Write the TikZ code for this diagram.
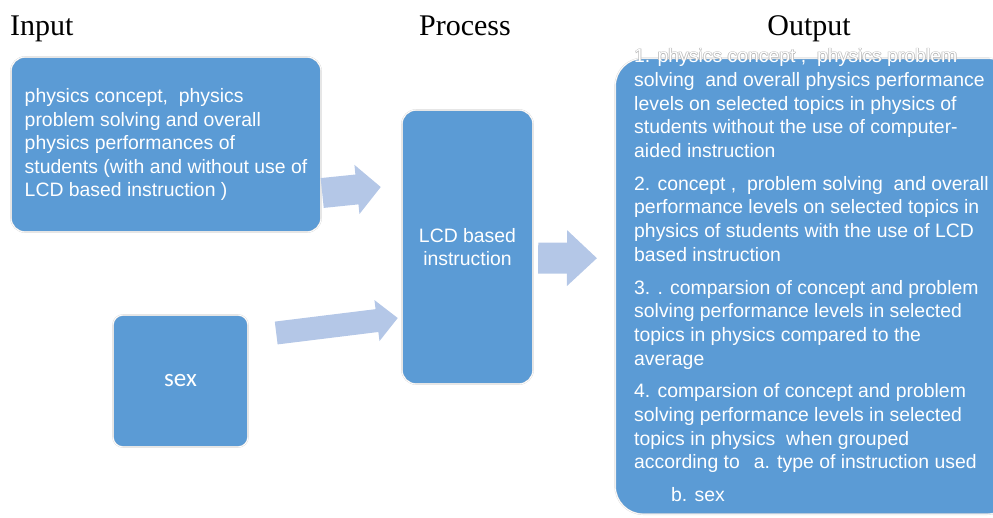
\documentclass[tikz,border=0pt]{standalone}
\usepackage{fontspec}
\setmainfont{Liberation Sans}
\newfontfamily\headfont{Liberation Serif}
\newfontfamily\sexfont{Carlito}
\usetikzlibrary{arrows.meta,positioning}
\definecolor{boxblue}{HTML}{5B9BD5}
\definecolor{arrowblue}{HTML}{B4C7E7}
\newcommand{\outtxt}{1. physics concept ,~ physics problem\\
solving~ and overall physics performance\\
levels on selected topics in physics of\\
students without the use of computer-\\
aided instruction\\[9pt]
2. concept ,~ problem solving~ and overall\\
performance levels on selected topics in\\
physics of students with the use of LCD\\
based instruction\\[9pt]
3. . comparsion of concept and problem\\
solving performance levels in selected\\
topics in physics compared to the\\
average\\[9pt]
4. comparsion of concept and problem\\
solving performance levels in selected\\
topics in physics~ when grouped\\
according to\hspace{14pt}a. type of instruction used\\[9pt]
\hspace*{37pt}b. sex}
\begin{document}
\begin{tikzpicture}[x=1pt,y=-1pt,
		box/.style={rectangle,rounded corners=14pt,fill=boxblue,draw=gray!30,double=white,double distance=0.8pt,
			text=white,inner sep=0pt,font=\fontsize{19.4}{23.5}\selectfont},
		head/.style={font=\headfont\fontsize{30}{30}\selectfont,inner sep=0pt,anchor=base},
		bodytext/.style={font=\fontsize{19.4}{23.7}\selectfont,align=left,anchor=north west,inner sep=0pt},
		fat/.style={draw=arrowblue,line cap=butt}]
	\useasboundingbox (0,0) rectangle (993,517);

	% headings
	\node[head,anchor=base west] (inhead) at (10,35) {Input};
	\node[head] (prochead) at (465,35) {Process};
	\node[head] (outhead) at (809,35) {Output};

	% boxes
	\node[box,minimum width=310pt,minimum height=175pt,align=left] (input) at (166,144.5)
		{physics concept,~ physics\\ problem solving and overall\\ physics performances of\\
		students (with and without use of\\ LCD based instruction )};
	\node[box,minimum width=135pt,minimum height=132pt,rounded corners=10pt,
		font=\sexfont\fontsize{25}{25}\selectfont] (sex) at (180.5,381) {sex};
	\node[box,minimum width=131pt,minimum height=274pt,align=center] (lcd) at (467.5,247)
		{LCD based\\ instruction};
	\node[box,minimum width=400pt,minimum height=456pt,rounded corners=28pt,anchor=north west]
		(output) at (615,58) {};

	% first output line sticks out of the box
	\begin{scope}
		\clip (620,38) rectangle (993,59);
		\foreach \dx/\dy [count=\i] in {-0.7/0,0.7/0,0/-0.7,0/0.7}
			\node[bodytext,text=gray!55] (halo\i) at (634+\dx,48.5+\dy) {\outtxt};
	\end{scope}
	\node[bodytext,text=white] (outtext) at (634,48.5) {\outtxt};

	% arrows
	\draw[fat,line width=30pt,-{Triangle[length=24pt,width=48pt]}]
		([shift={(1,48.5)}]input.east) -- ([shift={(-21,-60)}]lcd.west);
	\draw[fat,line width=23pt,-{Triangle[length=21pt,width=40pt]}]
		([shift={(28,-48)}]sex.east) -- ([shift={(-4,71)}]lcd.west);
	\draw[fat,line width=31pt,-{Triangle[length=30pt,width=54pt]}]
		([shift={(5,11)}]lcd.east) -- ([shift={(-18,-28)}]output.west);
\end{tikzpicture}
\end{document}
